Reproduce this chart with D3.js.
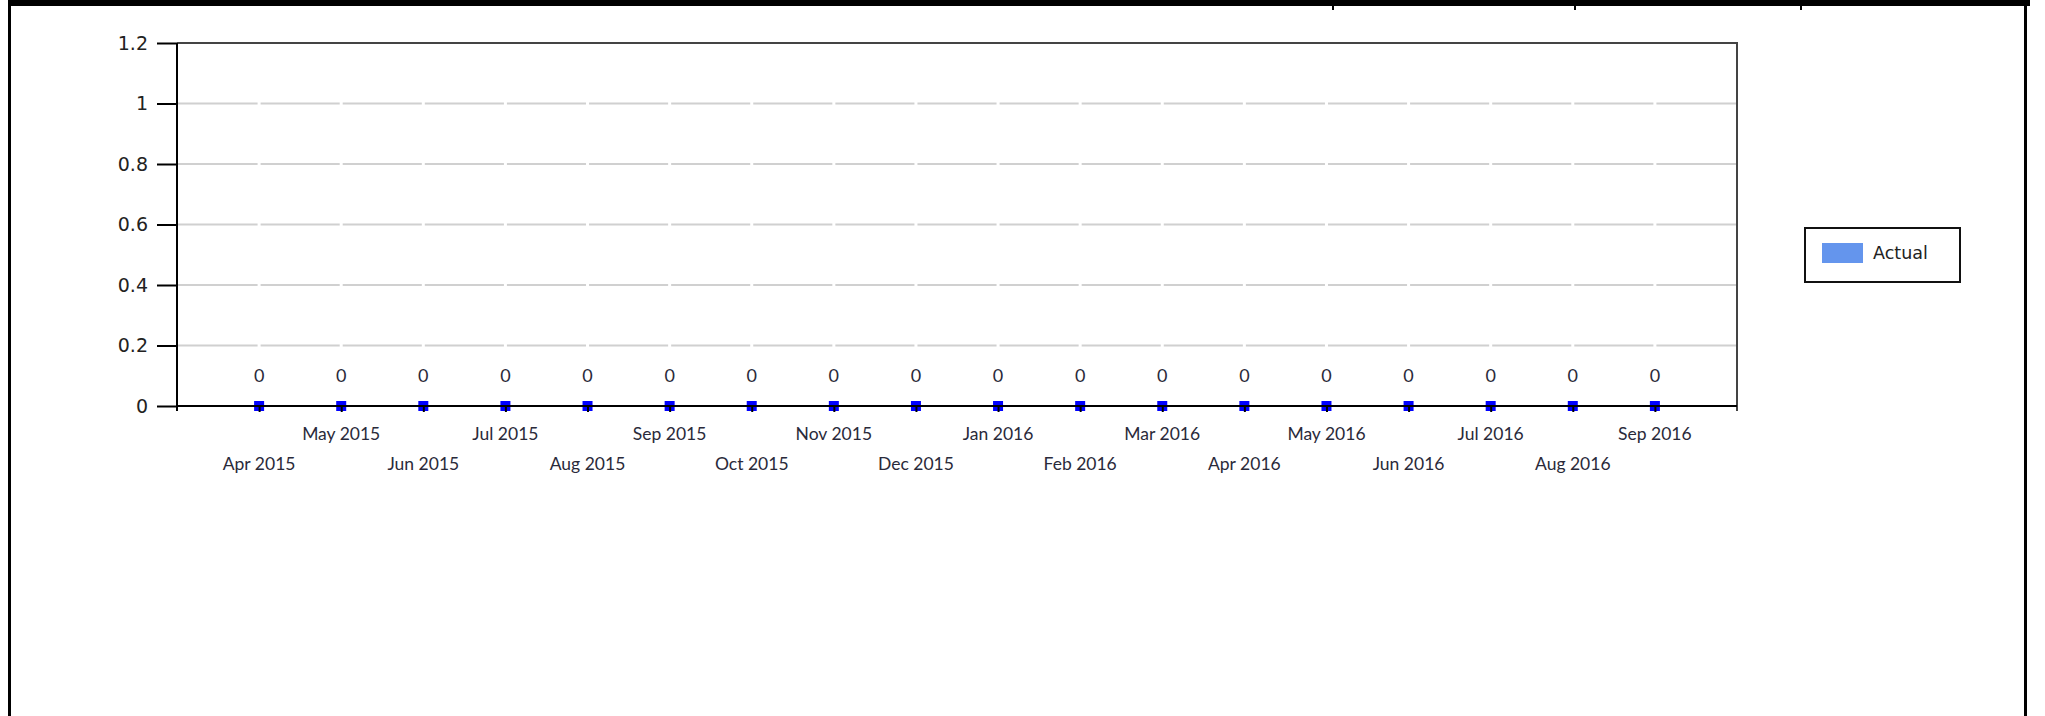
<!DOCTYPE html>
<html>
<head>
<meta charset="utf-8">
<script src="https://d3js.org/d3.v7.min.js"></script>
<style>
  body { margin: 0; background: #fff; }
  svg { display: block; }
</style>
</head>
<body>
<div id="chart"></div>
<script>
const months = [
  "Apr 2015", "May 2015", "Jun 2015", "Jul 2015", "Aug 2015", "Sep 2015",
  "Oct 2015", "Nov 2015", "Dec 2015", "Jan 2016", "Feb 2016", "Mar 2016",
  "Apr 2016", "May 2016", "Jun 2016", "Jul 2016", "Aug 2016", "Sep 2016",
];
const actual = [0, 0, 0, 0, 0, 0, 0, 0, 0, 0, 0, 0, 0, 0, 0, 0, 0, 0];
const yTicks = [0, 0.2, 0.4, 0.6, 0.8, 1, 1.2];
const legendLabels = ["Actual"];

const width = 2045,
  height = 716;
const plot = { left: 177, right: 1737, top: 43, bottom: 406 };

const svg = d3
  .select("#chart")
  .append("svg")
  .attr("width", width)
  .attr("height", height);

const x = d3
  .scalePoint()
  .domain(months)
  .range([plot.left, plot.right])
  .padding(1);

const y = d3.scaleLinear().domain([0, 1.2]).range([plot.bottom, plot.top]);

function drawFrame() {
  // outer page borders
  svg.append("rect").attr("x", 8).attr("y", 0).attr("width", 2022).attr("height", 6).attr("fill", "#000");
  svg.append("rect").attr("x", 8).attr("y", 0).attr("width", 3).attr("height", height).attr("fill", "#000");
  svg.append("rect").attr("x", 2024).attr("y", 0).attr("width", 3).attr("height", height).attr("fill", "#000");
  [1332, 1574, 1800].forEach((cx) => {
    svg.append("rect").attr("x", cx).attr("y", 0).attr("width", 2).attr("height", 10).attr("fill", "#000");
  });
}

function drawGrid() {
  // gridlines are broken at every category position
  const stops = [plot.left].concat(months.map((m) => x(m)), [plot.right]);
  const gap = 1.5;
  yTicks
    .filter((t) => t > 0 && t < 1.2)
    .forEach((t) => {
      for (let i = 0; i < stops.length - 1; i++) {
        svg
          .append("line")
          .attr("x1", stops[i] + (i === 0 ? 0 : gap))
          .attr("x2", stops[i + 1] - (i === stops.length - 2 ? 0 : gap))
          .attr("y1", y(t))
          .attr("y2", y(t))
          .attr("stroke", "#d0d0d0")
          .attr("stroke-width", 2);
      }
    });

  // top & right plot border
  svg
    .append("polyline")
    .attr("points", `${plot.left},${plot.top} ${plot.right},${plot.top} ${plot.right},${plot.bottom + 5}`)
    .attr("fill", "none")
    .attr("stroke", "#444")
    .attr("stroke-width", 2);
}

function drawPoints() {
  const size = 10;
  svg
    .selectAll("rect.point")
    .data(actual)
    .enter()
    .append("rect")
    .attr("class", "point")
    .attr("x", (d, i) => x(months[i]) - size / 2)
    .attr("y", (d) => y(d) - size / 2)
    .attr("width", size)
    .attr("height", size)
    .attr("fill", "#0000ff");

  svg
    .selectAll("text.data-label")
    .data(actual)
    .enter()
    .append("text")
    .attr("class", "data-label")
    .attr("x", (d, i) => x(months[i]))
    .attr("y", (d) => y(d) - 24)
    .attr("text-anchor", "middle")
    .style("font-family", "Lato, 'Open Sans', sans-serif")
    .style("font-size", "18px")
    .attr("fill", "#2a2a3a")
    .text((d) => d3.format("d")(d));
}

function drawAxes() {
  // y axis
  const yAxis = svg
    .append("g")
    .attr("transform", `translate(${plot.left},0)`)
    .call(d3.axisLeft(y).tickValues(yTicks).tickSize(20).tickPadding(9).tickFormat(d3.format("")));
  yAxis.select(".domain").attr("stroke", "#000").attr("stroke-width", 2).attr("d", `M0,${plot.top}V${plot.bottom + 5}`);
  yAxis.selectAll(".tick line").attr("stroke", "#000").attr("stroke-width", 2);
  yAxis
    .selectAll(".tick text")
    .style("font-family", "'DejaVu Sans', sans-serif")
    .style("font-size", "19px")
    .attr("fill", "#222");

  // x axis
  const xAxis = svg
    .append("g")
    .attr("transform", `translate(0,${plot.bottom})`)
    .call(d3.axisBottom(x).tickSize(6).tickSizeOuter(0).tickFormat(""));
  xAxis.select(".domain").attr("stroke", "#000").attr("stroke-width", 2).attr("d", `M${plot.left},0H${plot.right}`);
  xAxis.selectAll(".tick line").attr("stroke", "#000").attr("stroke-width", 2);

  // staggered month labels
  svg
    .selectAll("text.month")
    .data(months)
    .enter()
    .append("text")
    .attr("class", "month")
    .attr("x", (d) => x(d))
    .attr("y", (d, i) => (i % 2 === 1 ? 440 : 470))
    .attr("text-anchor", "middle")
    .style("font-family", "Lato, 'Open Sans', sans-serif")
    .style("font-size", "17.5px")
    .attr("fill", "#2a2a3a")
    .text((d) => d);
}

function drawLegend() {
  const lg = svg.append("g").attr("transform", "translate(1805,228)");
  lg.append("rect")
    .attr("width", 155)
    .attr("height", 54)
    .attr("fill", "#fff")
    .attr("stroke", "#111")
    .attr("stroke-width", 2);
  legendLabels.forEach((label, i) => {
    lg.append("rect")
      .attr("x", 17)
      .attr("y", 15 + i * 30)
      .attr("width", 41)
      .attr("height", 20)
      .attr("fill", "#6495ed");
    lg.append("text")
      .attr("x", 68)
      .attr("y", 31 + i * 30)
      .style("font-family", "'DejaVu Sans', sans-serif")
      .style("font-size", "17.5px")
      .attr("fill", "#222")
      .text(label);
  });
}

drawFrame();
drawGrid();
drawPoints();
drawAxes();
drawLegend();
</script>
</body>
</html>
